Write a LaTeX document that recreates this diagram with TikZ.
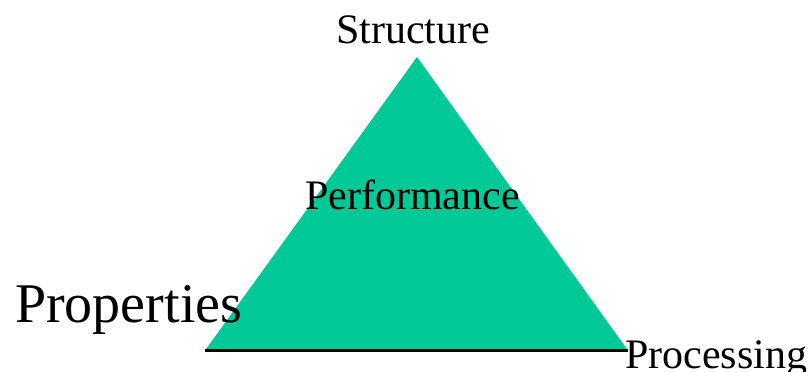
\documentclass[tikz,border=0pt]{standalone}
\usepackage{fontspec}
\setmainfont{Liberation Serif}
\definecolor{tri}{RGB}{0,201,152}
\tikzset{lbl/.style={anchor=base west,inner sep=0pt,font=\fontsize{42}{46}\selectfont},
  biglbl/.style={lbl,font=\fontsize{56}{60}\selectfont}}
\begin{document}
\begin{tikzpicture}[x=1pt,y=-1pt]
\useasboundingbox (0,0) rectangle (809,372);
\coordinate (apex) at (417,57);
\coordinate (bl) at (205,350.5);
\coordinate (br) at (628,350.5);
\fill[tri] (apex) -- (bl) -- (br) -- cycle;
\draw[line width=2.5pt] (bl) -- (br);
\node[lbl] (structure) at (336,43) {Structure};
\node[lbl] (performance) at (305,209) {Performance};
\node[biglbl] (properties) at (15,322) {Properties};
\node[lbl] (processing) at (625,368) {Processing};
\end{tikzpicture}
\end{document}
